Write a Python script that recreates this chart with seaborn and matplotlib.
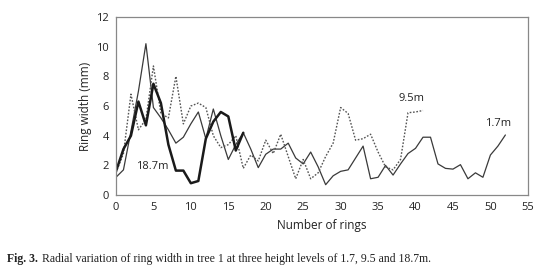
import matplotlib
matplotlib.use("Agg")
import matplotlib.pyplot as plt
import numpy as np
import pandas as pd
import seaborn as sns

# ring widths (mm), one value per ring
w_17 = [1.2, 1.7, 4.3, 7.0, 10.2, 5.9, 5.2, 4.4, 3.5, 3.9, 4.8, 5.6, 3.8, 5.8, 4.0,
        2.4, 3.4, 4.2, 3.1, 1.85, 2.75, 3.1, 3.1, 3.5, 2.5, 2.1, 2.9, 1.9, 0.7, 1.3,
        1.6, 1.7, 2.5, 3.3, 1.1, 1.2, 2.0, 1.35, 2.1, 2.8, 3.15, 3.9, 3.9, 2.1, 1.8,
        1.75, 2.05, 1.1, 1.5, 1.2, 2.7, 3.3, 4.05]
w_95 = [1.5, 2.8, 6.8, 4.4, 5.1, 8.7, 5.5, 5.2, 8.0, 4.8, 6.0, 6.2, 5.9, 4.0, 3.2,
        3.4, 4.0, 1.8, 2.7, 2.3, 3.7, 2.8, 4.1, 2.6, 1.1, 2.4, 1.1, 1.5, 2.6, 3.5,
        5.9, 5.5, 3.7, 3.8, 4.1, 2.9, 1.9, 1.7, 2.4, 5.55, 5.6, 5.7]
w_187 = [1.6, 3.1, 4.0, 6.3, 4.7, 7.5, 6.2, 3.4, 1.65, 1.65, 0.8, 0.95, 3.8, 4.95,
         5.6, 5.3, 3.0, 4.2]

labels = ["1.7m", "9.5m", "18.7m"]
label_pos = [(51.0, 4.85), (39.4, 6.5), (4.8, 1.95)]

sns.set_style("white")
plt.rcParams['font.family'] = ['Open Sans', 'DejaVu Sans']

fig = plt.figure(figsize=(5.47, 2.74), dpi=100)
ax = fig.add_axes([0.212, 0.288, 0.753, 0.65])

sns.lineplot(x=np.arange(len(w_17)), y=w_17, ax=ax, color="#3a3a3a", lw=0.9)
sns.lineplot(x=np.arange(len(w_95)), y=w_95, ax=ax, color="#555555", lw=1.0,
             linestyle=(0, (1.2, 1.2)))
sns.lineplot(x=np.arange(len(w_187)), y=w_187, ax=ax, color="#1a1a1a", lw=1.8)

for lab, (xx, yy) in zip(labels, label_pos):
    ax.text(xx, yy, lab, ha="center", va="center", fontsize=8, color="#222222")

ax.set_xlim(0, 55)
ax.set_ylim(0, 12)
ax.set_xticks(range(0, 56, 5))
ax.set_yticks(range(0, 13, 2))
ax.tick_params(axis="both", direction="out", length=3, width=0.8, color="#777777",
               labelsize=8, labelcolor="#222222", pad=2)
for s in ax.spines.values():
    s.set_color("#888888")
    s.set_linewidth(0.9)
ax.set_xlabel("Number of rings", fontsize=8.5, color="#222222", labelpad=4)
ax.set_ylabel("Ring width (mm)", fontsize=8.5, color="#222222", labelpad=3)

fig.text(0.013, 0.045, "Fig. 3.", fontsize=8.5, family="Liberation Serif",
         weight="bold", color="#222222")
fig.text(0.076, 0.045, "Radial variation of ring width in tree 1 at three height levels of 1.7, 9.5 and 18.7m.",
         fontsize=8.5, family="Liberation Serif", color="#222222")

fig.savefig("out.png", dpi=100)
